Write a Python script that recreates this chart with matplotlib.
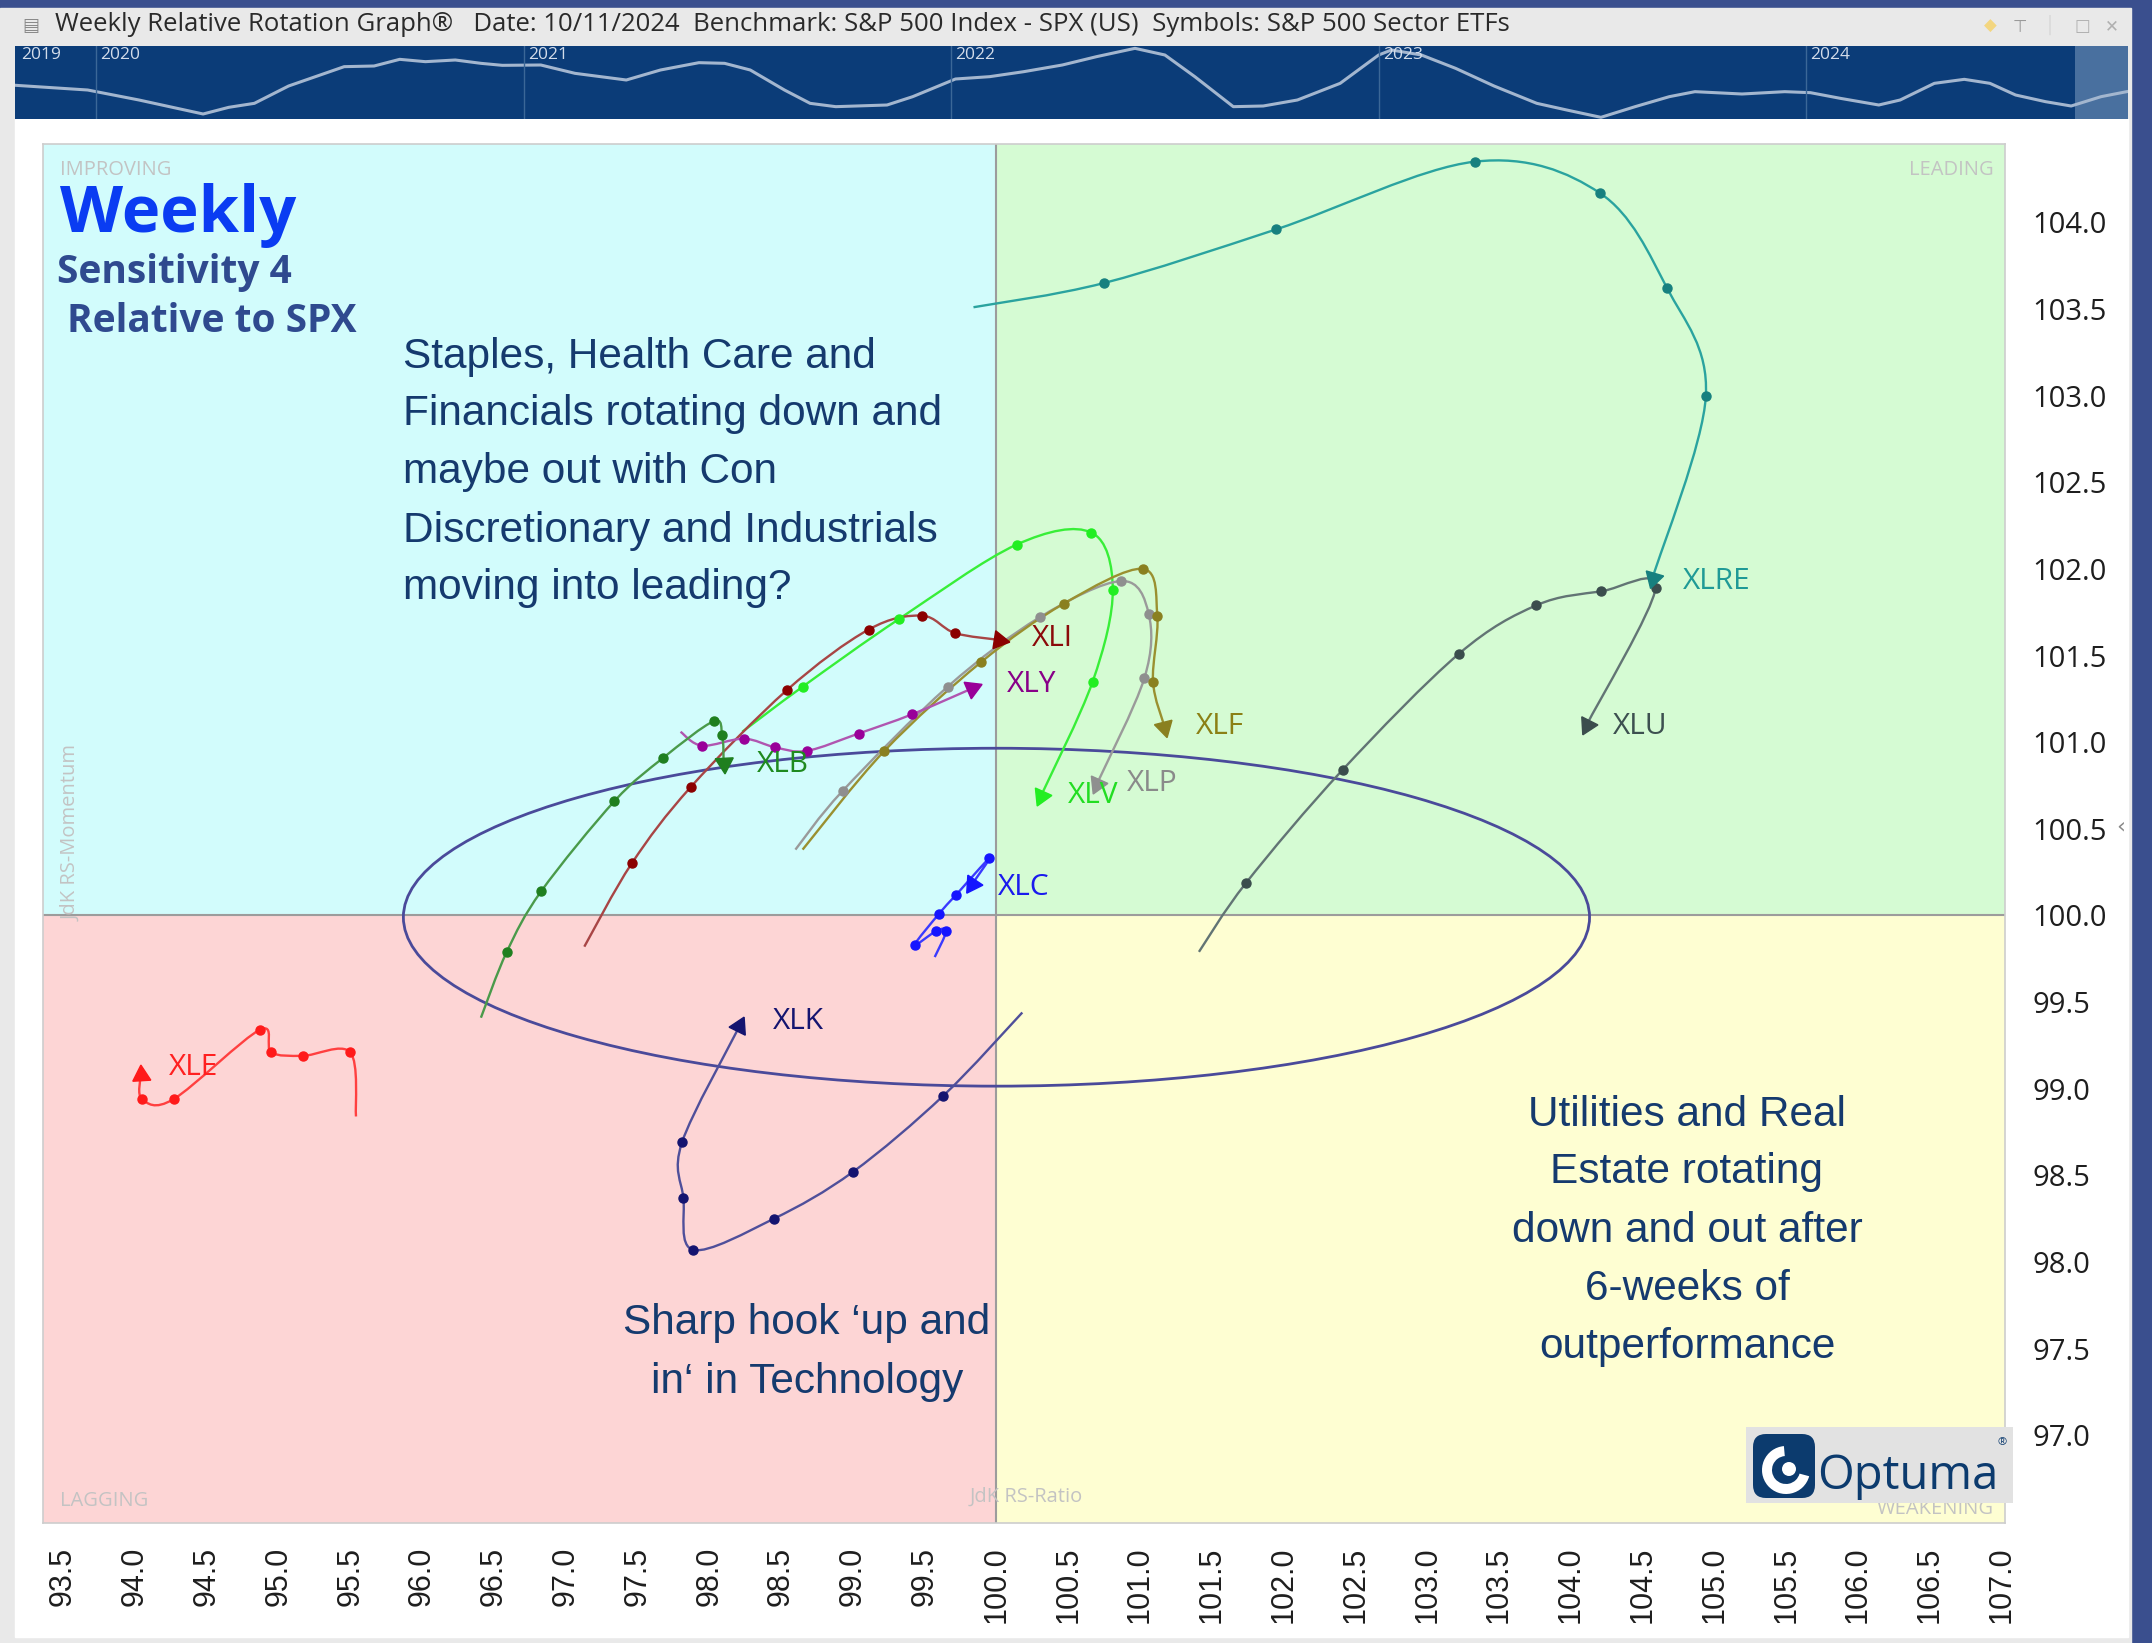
import numpy as np
import matplotlib
matplotlib.use("Agg")
import matplotlib.pyplot as plt
from matplotlib import font_manager
from matplotlib.path import Path
from matplotlib.patches import PathPatch, Rectangle, Ellipse, FancyBboxPatch, Wedge, Circle

W, H = 2152, 1643

""" RRG tails, oldest -> newest (x = JdK RS-Ratio, y = JdK RS-Momentum) """
xlre_x = [99.84, 100.75, 101.95, 103.33, 104.20, 104.67, 104.94, 104.57]
xlre_y = [103.51, 103.65, 103.96, 104.35, 104.17, 103.62, 103.00, 101.95]
xlu_x = [101.41, 101.74, 102.41, 103.22, 103.76, 104.21, 104.59, 104.11]
xlu_y = [99.79, 100.19, 100.84, 101.51, 101.79, 101.87, 101.89, 101.10]
xlv_x = [98.23, 98.65, 99.32, 100.14, 100.66, 100.81, 100.67, 100.31]
xlv_y = [101.06, 101.32, 101.71, 102.14, 102.21, 101.88, 101.35, 100.69]
xlp_x = [98.60, 98.93, 99.66, 100.30, 100.87, 101.06, 101.03, 100.70]
xlp_y = [100.38, 100.72, 101.32, 101.72, 101.93, 101.74, 101.37, 100.76]
xlf_x = [98.65, 99.22, 99.89, 100.47, 101.02, 101.12, 101.09, 101.17]
xlf_y = [100.38, 100.95, 101.46, 101.80, 102.00, 101.73, 101.35, 101.09]
xli_x = [97.13, 97.46, 97.87, 98.54, 99.11, 99.48, 99.71, 100.02]
xli_y = [99.82, 100.30, 100.74, 101.30, 101.65, 101.73, 101.63, 101.59]
xly_x = [97.80, 97.95, 98.24, 98.46, 98.68, 99.04, 99.41, 99.83]
xly_y = [101.06, 100.98, 101.02, 100.97, 100.95, 101.05, 101.16, 101.31]
xlb_x = [96.41, 96.59, 96.83, 97.34, 97.68, 98.03, 98.09, 98.10]
xlb_y = [99.41, 99.79, 100.14, 100.66, 100.91, 101.12, 101.04, 100.88]
xlc_x = [99.57, 99.65, 99.58, 99.43, 99.60, 99.72, 99.95, 99.83]
xlc_y = [99.76, 99.91, 99.91, 99.83, 100.01, 100.12, 100.33, 100.18]
xlk_x = [100.18, 99.63, 99.00, 98.45, 97.89, 97.82, 97.81, 98.21]
xlk_y = [99.44, 98.96, 98.52, 98.25, 98.07, 98.37, 98.69, 99.36]
xle_x = [95.54, 95.50, 95.17, 94.95, 94.87, 94.27, 94.05, 94.04]
xle_y = [98.84, 99.21, 99.19, 99.21, 99.34, 98.94, 98.94, 99.08]

symbols = ["XLRE", "XLU", "XLV", "XLP", "XLF", "XLI", "XLY", "XLB", "XLC", "XLK", "XLE"]
tails = {"XLRE": (xlre_x, xlre_y), "XLU": (xlu_x, xlu_y), "XLV": (xlv_x, xlv_y),
         "XLP": (xlp_x, xlp_y), "XLF": (xlf_x, xlf_y), "XLI": (xli_x, xli_y),
         "XLY": (xly_x, xly_y), "XLB": (xlb_x, xlb_y), "XLC": (xlc_x, xlc_y),
         "XLK": (xlk_x, xlk_y), "XLE": (xle_x, xle_y)}

# focus ellipse (centre, width, height in RS units)
ellipse_xy = (100.0, 99.99)
ellipse_w, ellipse_h = 8.26, 1.95

# overview strip above the chart
strip_year = [2019.80, 2019.98, 2020.10, 2020.25, 2020.31, 2020.37, 2020.45, 2020.58, 2020.65,
              2020.71, 2020.77, 2020.84, 2020.90, 2020.95, 2021.04, 2021.12, 2021.24, 2021.32,
              2021.41, 2021.47, 2021.53, 2021.61, 2021.67, 2021.73, 2021.85, 2021.91, 2022.01,
              2022.09, 2022.17, 2022.26, 2022.34, 2022.43, 2022.50, 2022.57, 2022.66, 2022.73,
              2022.81, 2022.91, 2023.00, 2023.03, 2023.10, 2023.18, 2023.27, 2023.37, 2023.44,
              2023.52, 2023.60, 2023.68, 2023.74, 2023.85, 2023.95, 2024.01, 2024.08, 2024.17,
              2024.22, 2024.30, 2024.37, 2024.43, 2024.49, 2024.56, 2024.62, 2024.69, 2024.75]
strip_val = [105, 90, 60, 18, 38, 50, 102, 160, 162, 182, 175, 180, 170, 164, 165, 140, 120, 150,
             172, 170, 150, 90, 50, 40, 45, 70, 123, 130, 145, 165, 190, 215, 195, 130, 40, 42,
             60, 110, 195, 210, 195, 155, 102, 50, 30, 8, 40, 70, 85, 78, 85, 82, 65, 45, 60,
             110, 122, 110, 75, 55, 42, 70, 85]
strip_years = [2019, 2020, 2021, 2022, 2023, 2024]

xticks = np.arange(93.5, 107.01, 0.5)
yticks = np.arange(97.0, 104.01, 0.5)

title = ("Weekly Relative Rotation Graph\u00ae   Date: 10/11/2024  Benchmark: S&P 500 Index - SPX (US)"
         "  Symbols: S&P 500 Sector ETFs")
note_top = ["Staples, Health Care and", "Financials rotating down and", "maybe out with Con",
            "Discretionary and Industrials", "moving into leading?"]
note_tech = ["Sharp hook \u2018up and", "in\u2018 in Technology"]
note_util = ["Utilities and Real", "Estate rotating", "down and out after", "6-weeks of",
             "outperformance"]

# ---------------------------------------------------------------------------
styles = {
    "XLRE": ("#2aa39f", "#17807f", "#1f9a96", (104.78, 101.93)),
    "XLU": ("#627474", "#3b4d4d", "#3d5050", (104.29, 101.09)),
    "XLV": ("#38ee38", "#22ee22", "#22dd22", (100.50, 100.69)),
    "XLP": ("#9a9a9a", "#8f8f8f", "#8a8a8a", (100.91, 100.76)),
    "XLF": ("#9a9030", "#8a8020", "#8b8015", (101.39, 101.09)),
    "XLI": ("#a84545", "#8b0000", "#8b0a0a", (100.25, 101.60)),
    "XLY": ("#b055b0", "#990099", "#880088", (100.07, 101.33)),
    "XLB": ("#4a9a4a", "#1f7f1f", "#1f8a1f", (98.33, 100.87)),
    "XLC": ("#3a3aff", "#1515ff", "#1a1aee", (100.01, 100.16)),
    "XLK": ("#4f4f9a", "#141470", "#141470", (98.44, 99.39)),
    "XLE": ("#ff4040", "#ff1a1a", "#ff2020", (94.24, 99.12)),
}


def has_font(name):
    try:
        font_manager.findfont(font_manager.FontProperties(family=name), fallback_to_default=False)
        return True
    except ValueError:
        return False


NARROW = "Liberation Sans Narrow" if has_font("Liberation Sans Narrow") else None
plt.rcParams['font.family'] = ['Open Sans', 'DejaVu Sans']


def fx(x):
    return x / W


def fy(y):
    return 1 - y / H


def smooth(xs, ys):
    # Catmull-Rom through the points, drawn as cubic Bezier segments
    P = np.column_stack([xs, ys])
    n = len(P)
    verts, codes = [P[0]], [Path.MOVETO]
    for i in range(n - 1):
        p0, p1, p2, p3 = P[max(i - 1, 0)], P[i], P[i + 1], P[min(i + 2, n - 1)]
        verts += [p1 + (p2 - p0) / 6, p2 - (p3 - p1) / 6, p2]
        codes += [Path.CURVE4] * 3
    return Path(verts, codes)


fig = plt.figure(figsize=(W / 100, H / 100), dpi=100)
fig.patch.set_facecolor("#3a4f8e")

# window chrome
for (x0, y0, x1, y1, c) in [(0, 8, 2131, 1643, "#e9e9e9"), (15, 119, 2128, 1637, "#ffffff")]:
    fig.add_artist(Rectangle((fx(x0), fy(y1)), (x1 - x0) / W, (y1 - y0) / H,
                             transform=fig.transFigure, color=c, zorder=-5))
fig.text(fx(22), fy(31), "\u25a4", fontsize=13, color="#8a8a8a", va="baseline",
         family=["DejaVu Sans"])
fig.text(fx(55), fy(31), title, fontsize=18.5, color="#2a2a2a", va="baseline")
for xi, g, c in [(1990, "\u25c6", "#f3d680"), (2020, "\u22a4", "#9a9a9a"), (2050, "\u2502", "#d6d6d6"),
                 (2082, "\u25a1", "#b0b0b0"), (2112, "\u2715", "#b0b0b0")]:
    fig.text(fx(xi), fy(31), g, fontsize=12, color=c, ha="center", va="baseline",
             family=["DejaVu Sans"])
fig.text(fx(2121), fy(832), "\u2039", fontsize=16, color="#888888", ha="center",
         family=["DejaVu Sans"])

# overview strip
axs = fig.add_axes([fx(15), fy(119), (2128 - 15) / W, (119 - 46) / H])
axs.set_facecolor("#0b3c78")
axs.plot(strip_year, strip_val, color="#a3b6cf", lw=2.2)
for yr in strip_years[1:]:
    axs.axvline(yr, color="#3b6797", lw=1)
for yr in strip_years:
    axs.text(max(yr, 2019.815) + 0.01, 219, str(yr), fontsize=12.5, color="#d2dcea", va="top")
axs.axvspan(2024.63, 2024.76, color="#7d9bc0", alpha=0.55, lw=0)
axs.set_xlim(2019.81, 2024.753)
axs.set_ylim(3, 222)
axs.set_xticks([])
axs.set_yticks([])
for s in axs.spines.values():
    s.set_visible(False)

# main RRG axes
ax = fig.add_axes([fx(42.5), fy(1523), (2005 - 42.5) / W, (1523 - 144) / H])
x0, x1, y0, y1 = 93.357, 107.023, 96.494, 104.452
ax.set_xlim(x0, x1)
ax.set_ylim(y0, y1)
for (rx, ry, rw, rh, c) in [(x0, 100, 100 - x0, y1 - 100, "#d2fcfc"),
                            (100, 100, x1 - 100, y1 - 100, "#d5fbd3"),
                            (x0, y0, 100 - x0, 100 - y0, "#fdd5d5"),
                            (100, y0, x1 - 100, 100 - y0, "#fefed2")]:
    ax.add_patch(Rectangle((rx, ry), rw, rh, color=c, lw=0, zorder=0))
ax.axvline(100, color="#9c9c9c", lw=1.5, zorder=1)
ax.axhline(100, color="#9c9c9c", lw=1.5, zorder=1)

corner = dict(fontsize=14.5, color="#c3c3c3", transform=ax.transAxes)
ax.text(0.0087, 0.9815, "IMPROVING", va="center", ha="left", **corner)
ax.text(0.9945, 0.9815, "LEADING", va="center", ha="right", **corner)
ax.text(0.0087, 0.0160, "LAGGING", va="center", ha="left", **corner)
ax.text(0.9945, 0.0100, "WEAKENING", va="center", ha="right", **corner)
ax.text(0.0145, 0.50, "JdK RS-Momentum", rotation=90, va="center", ha="center", **corner)
ax.text(0.5013, 0.0190, "JdK RS-Ratio", va="center", ha="center", **corner)

ax.add_patch(Ellipse(ellipse_xy, ellipse_w, ellipse_h, fill=False, ec="#4a4a9a", lw=2, zorder=2))

for sym in symbols:
    xs, ys = tails[sym]
    lc, mc, tc, lab = styles[sym]
    ax.add_patch(PathPatch(smooth(xs, ys), fill=False, ec=lc, lw=1.7, zorder=3))
    ax.plot(xs[1:-1], ys[1:-1], "o", ms=6.5, color=mc, mec=mc, zorder=4)
    p = ax.transData.transform([(xs[-2], ys[-2]), (xs[-1], ys[-1])])
    ang = np.degrees(np.arctan2(p[1, 1] - p[0, 1], p[1, 0] - p[0, 0]))
    ax.plot(xs[-1], ys[-1], marker=(3, 0, ang - 90), ms=15, color=mc, mec=mc, zorder=5)
    ax.text(lab[0], lab[1], sym, fontsize=21.5, color=tc, va="center", ha="left", zorder=6)

ax.set_xticks(xticks)
ax.set_xticklabels([f"{v:.1f}" for v in xticks], rotation=90, fontsize=22,
                   color="#1e1e1e", family=["Liberation Sans", "DejaVu Sans"])
ax.yaxis.tick_right()
ax.set_yticks(yticks)
ax.set_yticklabels([f"{v:.1f}" for v in yticks], fontsize=21, color="#1e1e1e")
ax.tick_params(axis="x", length=0, pad=17)
ax.tick_params(axis="y", length=0, pad=20)
for s in ax.spines.values():
    s.set_color("#cdcdcd")
    s.set_linewidth(1.2)

# Optuma logo
axl = fig.add_axes([fx(1746), fy(1503), (2013 - 1746) / W, (1503 - 1427) / H], zorder=2)
axl.set_xlim(0, 267)
axl.set_ylim(0, 76)
axl.axis("off")
axl.add_patch(Rectangle((0, 0), 267, 76, color="#e2e2e2", lw=0))
axl.add_patch(FancyBboxPatch((7, 5), 62, 64, boxstyle="round,pad=0,rounding_size=13",
                             fc="#0c3b6e", ec="none"))
axl.add_patch(Wedge((40, 33), 24, 95, 345, width=10, fc="white", ec="none"))
axl.add_patch(Circle((43, 34), 7, fc="white", ec="none"))
if NARROW:
    axl.text(72, 15, "Optuma", fontsize=42, color="#0c3b6e", family=[NARROW], va="baseline")
else:
    axl.text(71, 14, "Optuma", fontsize=34, color="#0c3b6e", va="baseline")
axl.text(256, 60, "\u00ae", fontsize=8, color="#0c3b6e", ha="center", va="center")

# headings
fig.text(fx(60), fy(232), "Weekly", fontsize=47, fontweight="bold", color="#0a3cf2", va="baseline")
fig.text(fx(57), fy(283), "Sensitivity 4", fontsize=28, fontweight="bold", color="#2f4a8f",
         va="baseline")
fig.text(fx(67), fy(332), "Relative to SPX", fontsize=28, fontweight="bold", color="#2f4a8f",
         va="baseline")

# commentary
note = dict(fontsize=30.5, color="#153a6e", va="baseline", family=["Liberation Sans", "DejaVu Sans"])
for line, yb in zip(note_top, [368, 425, 483, 542, 599]):
    fig.text(fx(403), fy(yb), line, ha="left", **note)
for line, yb in zip(note_tech, [1334, 1393]):
    fig.text(fx(807), fy(yb), line, ha="center", **note)
for line, yb in zip(note_util, [1126, 1183, 1242, 1300, 1358]):
    fig.text(fx(1687), fy(yb), line, ha="center", **note)

fig.savefig("out.png", dpi=100)
